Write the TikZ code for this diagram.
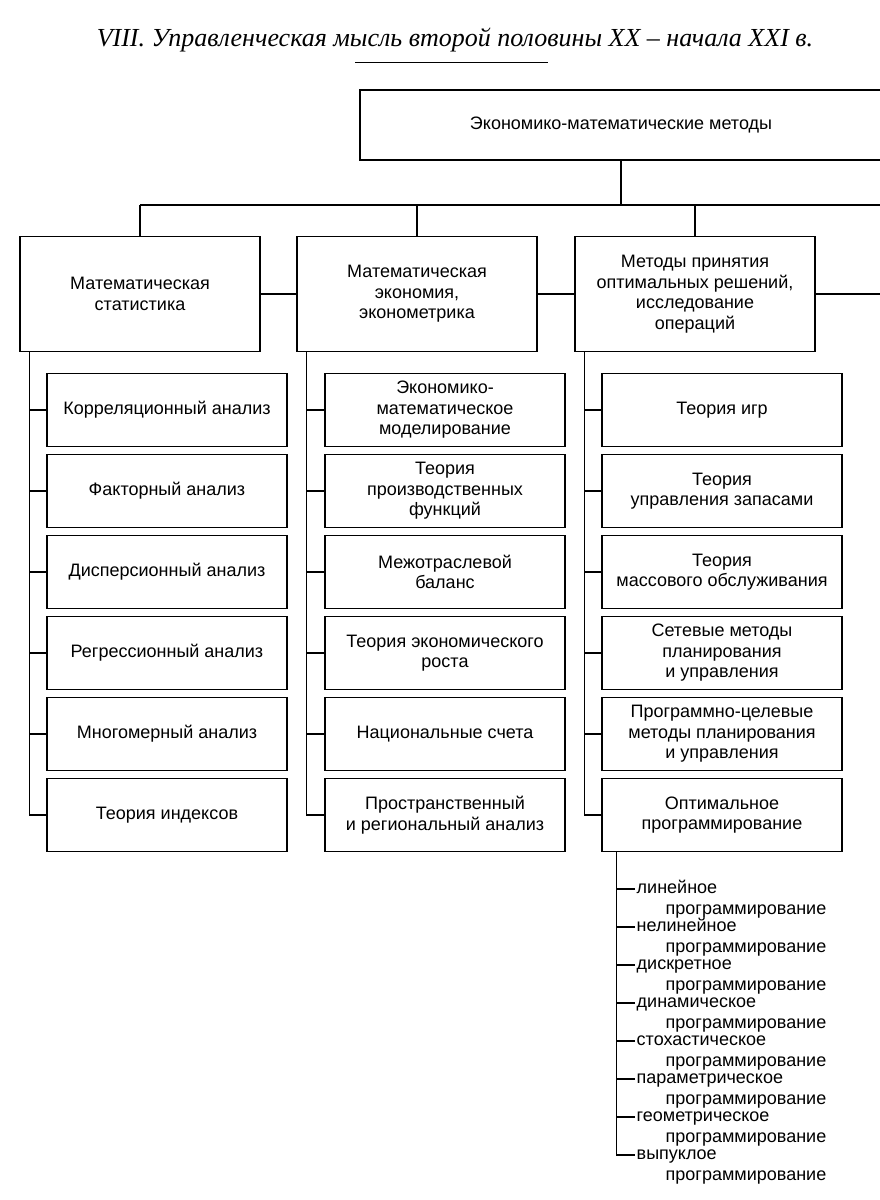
\documentclass[tikz,border=0pt]{standalone}
\usepackage{fontspec}
\setmainfont{Liberation Sans}
\newfontfamily\titlefont{Liberation Serif}
\begin{document}
\begin{tikzpicture}[x=1pt,y=-1pt,
  box/.style={draw, line width=1.2pt, align=center, inner sep=0pt,
    minimum width=240pt, minimum height=73pt, font=\fontsize{18}{20.5}\selectfont},
  head/.style={box, minimum height=115pt},
  item/.style={anchor=west, inner sep=1.5pt, text height=13pt, text depth=4pt,
    font=\fontsize{18}{20.5}\selectfont},
  link/.style={line width=1.2pt}]
 \useasboundingbox (0,0) rectangle (880,1200);
 % title
 \node[font=\titlefont\itshape\fontsize{26}{29}\selectfont] (ttl) at (455,40)
   {VIII. Управленческая мысль второй половины XX – начала XXI в.};
 \coordinate (ulA) at (355,62);
 \coordinate (ulB) at (548,62);
 \draw[line width=1pt] (ulA) -- (ulB);
 % top level
 \node[box, minimum width=522pt, minimum height=70pt] (top) at (621,125)
   {Экономико-математические методы};
 \node[head] (stat) at (140,294) {Математическая\\статистика};
 \node[head] (econ) at (417,294) {Математическая\\экономия,\\эконометрика};
 \node[head] (opr) at (695,294) {Методы принятия\\оптимальных решений,\\исследование\\операций};
 \coordinate (busL) at (140,205);
 \coordinate (busR) at (880,205);
 \draw[link] (top.south) -- (top.south |- busL);
 \draw[link] (stat.north |- busL) -- (busR);
 \foreach \n in {stat,econ,opr}
   \draw[link] (\n.north) -- (\n.north |- busL);
 \draw[link] (stat.east) -- (econ.west);
 \draw[link] (econ.east) -- (opr.west);
 \draw[link] (opr.east) -- (opr.east -| busR);
 % mathematical statistics
 \node[box] (k1) at (167,410) {Корреляционный анализ};
 \node[box] (k2) at (167,491) {Факторный анализ};
 \node[box] (k3) at (167,572) {Дисперсионный анализ};
 \node[box] (k4) at (167,653) {Регрессионный анализ};
 \node[box] (k5) at (167,734) {Многомерный анализ};
 \node[box] (k6) at (167,815) {Теория индексов};
 % mathematical economics
 \node[box] (m1) at (445,410) {Экономико-\\математическое\\моделирование};
 \node[box] (m2) at (445,491) {Теория\\производственных\\функций};
 \node[box] (m3) at (445,572) {Межотраслевой\\баланс};
 \node[box] (m4) at (445,653) {Теория экономического\\роста};
 \node[box] (m5) at (445,734) {Национальные счета};
 \node[box] (m6) at (445,815) {Пространственный\\и региональный анализ};
 % operations research
 \node[box] (r1) at (722,410) {Теория игр};
 \node[box] (r2) at (722,491) {Теория\\управления запасами};
 \node[box] (r3) at (722,572) {Теория\\массового обслуживания};
 \node[box] (r4) at (722,653) {Сетевые методы\\планирования\\и управления};
 \node[box] (r5) at (722,734) {Программно-целевые\\методы планирования\\и управления};
 \node[box] (r6) at (722,815) {Оптимальное\\программирование};
 % stems
 \coordinate (st1) at ([xshift=10pt]stat.south west);
 \coordinate (st2) at ([xshift=10pt]econ.south west);
 \coordinate (st3) at ([xshift=10pt]opr.south west);
 \draw[link] (st1) |- (k6.west);
 \draw[link] (st2) |- (m6.west);
 \draw[link] (st3) |- (r6.west);
 \foreach \i in {1,...,5} {
   \draw[link] (k\i.west) -- (k\i.west -| st1);
   \draw[link] (m\i.west) -- (m\i.west -| st2);
   \draw[link] (r\i.west) -- (r\i.west -| st3);
 }
 % kinds of optimal programming
 \coordinate (lst) at ([xshift=15pt]r6.south west);
 \foreach \w [count=\i] in {линейное,нелинейное,дискретное,динамическое,
     стохастическое,параметрическое,геометрическое,выпуклое} {
   \node[item] (lp\i) at (635,{889+38*(\i-1)}) {\w};
   \node[item] (lq\i) at (664,{910+38*(\i-1)}) {программирование};
 }
 \draw[link] (lst) |- (lp8.west);
 \foreach \i in {1,...,7}
   \draw[link] (lp\i.west) -- (lp\i.west -| lst);
\end{tikzpicture}
\end{document}
